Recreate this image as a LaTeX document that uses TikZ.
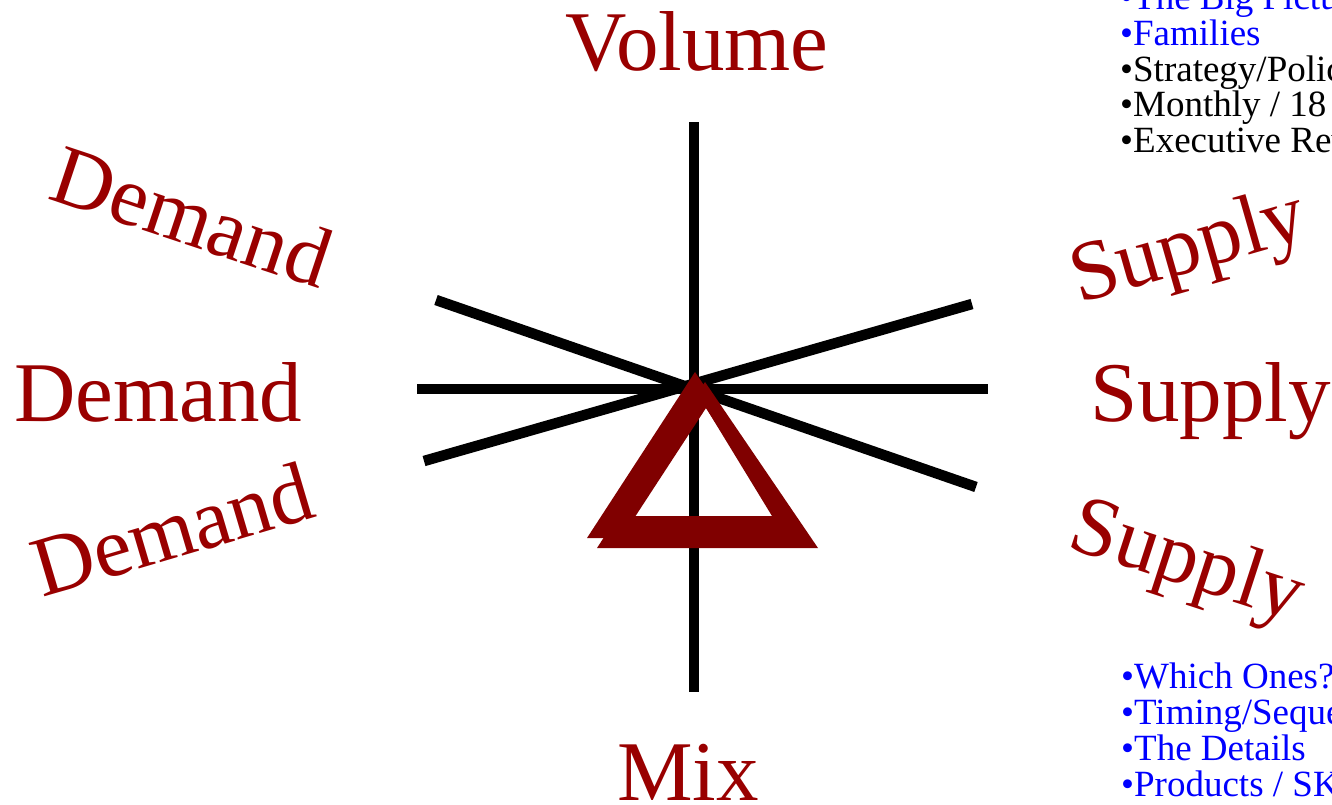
\documentclass[tikz,border=0pt]{standalone}
\usepackage{fontspec}
\setmainfont{Liberation Serif}
\definecolor{darkred}{HTML}{990000}
\definecolor{trired}{HTML}{800000}
\definecolor{linkblue}{HTML}{0000FF}
\tikzset{
  axis/.style={line width=10.5pt, black},
  bigword/.style={text=darkred, font=\fontsize{85}{94}\selectfont, inner sep=0pt, anchor=base west},
  bullet/.style={font=\fontsize{37}{38}\selectfont, inner sep=0pt, anchor=base west},
  bluebullet/.style={bullet, text=linkblue},
  blackbullet/.style={bullet, text=black}
}
\begin{document}
\begin{tikzpicture}[x=1pt,y=-1pt]
\useasboundingbox (0,0) rectangle (1332,804);
\clip (0,0) rectangle (1332,804);
% axes
\coordinate (vt) at (694,122); \coordinate (vb) at (694,692);
\coordinate (hl) at (417,389); \coordinate (hr) at (988,389);
\coordinate (a1) at (436,300); \coordinate (a2) at (976,487);
\coordinate (b1) at (424,461); \coordinate (b2) at (972,304);
\draw[axis] (vt) -- (vb);
\draw[axis] (hl) -- (hr);
\draw[axis] (a1) -- (a2);
\draw[axis] (b1) -- (b2);
% delta (two slightly offset copies)
\fill[trired, even odd rule] (695,372) -- (808,538) -- (587,538) -- cycle
  (700,398) -- (772,516) -- (622,516) -- cycle;
\fill[trired, even odd rule] (705,382) -- (818,548) -- (597,548) -- cycle
  (706,408) -- (782,526) -- (629,526) -- cycle;
% big words
\node[bigword, anchor=base] (volume) at (697,70) {Volume};
\node[bigword, anchor=base] (mix) at (688,800) {Mix};
\node[bigword] (demandmid) at (14,421) {Demand};
\node[bigword] (supplymid) at (1090,421) {Supply};
\node[bigword, rotate=-18.4] (demandtop) at (46,198) {Demand};
\node[bigword, rotate=16.5] (demandbot) at (42,598) {Demand};
\node[bigword, rotate=16] (supplytop) at (1079,304) {Supply};
\node[bigword, rotate=-18] (supplybot) at (1065,547) {Supply};
% top-right list
\node[bluebullet] (t1) at (1120,9.5) {•The Big Picture};
\node[bluebullet] (t2) at (1120,45) {•Families};
\node[blackbullet] (t3) at (1120,81) {•Strategy/Policy};
\node[blackbullet] (t4) at (1120,116.5) {•Monthly / 18};
\node[blackbullet] (t5) at (1120,152) {•Executive Review};
% bottom-right list
\node[bluebullet] (b1t) at (1121,688) {•Which Ones?};
\node[bluebullet] (b2t) at (1121,724) {•Timing/Sequence};
\node[bluebullet] (b3t) at (1121,760) {•The Details};
\node[bluebullet] (b4t) at (1121,796) {•Products / SKUs};
\end{tikzpicture}
\end{document}
